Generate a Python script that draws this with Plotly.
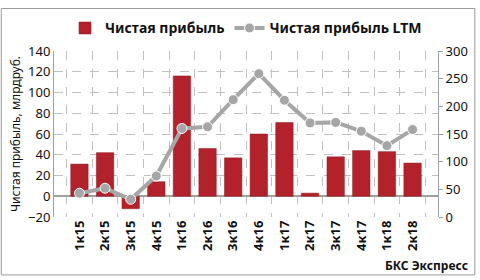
import plotly.graph_objects as go

categories = ["1к15", "2к15", "3к15", "4к15", "1к16", "2к16", "3к16", "4к16",
              "1к17", "2к17", "3к17", "4к17", "1к18", "2к18"]
net_profit = [31, 42, -12, 14, 116, 46, 37, 60, 71, 3, 38, 44, 43, 32]
net_profit_ltm = [43, 52, 32, 74, 160, 163, 212, 259, 211, 170, 171, 155, 129, 158]

left_ticks = [-20, 0, 20, 40, 60, 80, 100, 120, 140]
right_ticks = [0, 50, 100, 150, 200, 250, 300]

FONT = "Noto Sans"

fig = go.Figure()
fig.add_trace(go.Bar(
    x=categories, y=net_profit, name="Чистая прибыль",
    marker=dict(color="#b3222a", line=dict(color="#8a1a1f", width=0.5)),
    width=0.68,
))
fig.add_trace(go.Scatter(
    x=categories, y=net_profit_ltm, name="Чистая прибыль LTM", yaxis="y2",
    mode="lines+markers",
    line=dict(color="#a6a6a6", width=4),
    marker=dict(color="#a6a6a6", size=10, line=dict(color="white", width=1)),
))

fig.update_layout(
    width=480, height=280,
    margin=dict(l=54, r=40, t=45, b=63),
    paper_bgcolor="white", plot_bgcolor="white",
    font=dict(family=FONT, size=12, color="#222"),
    showlegend=True,
    legend=dict(orientation="h", x=0.5, xanchor="center", y=1.04, yanchor="bottom",
                font=dict(family=FONT, size=14, color="#111", weight="bold"),
                itemwidth=30, tracegroupgap=0),
    xaxis=dict(
        type="category", tickson="boundaries", showgrid=True,
        gridcolor="#c0c0c0", griddash="dash", gridwidth=1,
        tickangle=-90, ticks="", showline=False,
        tickfont=dict(family=FONT, size=13, color="#111", weight="bold"),
    ),
    yaxis=dict(
        range=[-20, 140], tickvals=left_ticks, showgrid=True,
        gridcolor="#c0c0c0", griddash="dash", gridwidth=1,
        zeroline=True, zerolinecolor="#a0a0a0", zerolinewidth=1.5,
        showline=True, linecolor="#a0a0a0", linewidth=1,
        ticks="", tickfont=dict(family=FONT, size=13, color="#111"),
        title=dict(text="Чистая прибыль, млрдруб.", standoff=4,
                   font=dict(family=FONT, size=12, color="#111")),
    ),
    yaxis2=dict(
        range=[0, 300], tickvals=right_ticks, overlaying="y", side="right",
        showgrid=False, zeroline=False,
        showline=True, linecolor="#a0a0a0", linewidth=1,
        ticks="outside", ticklen=4, tickcolor="#a0a0a0",
        tickfont=dict(family=FONT, size=13, color="#111"),
    ),
    annotations=[dict(
        text="<b>БКС Экспресс</b>", xref="paper", yref="paper",
        x=(472 - 54) / 386, y=-(267 - 217) / 172, xanchor="right", yanchor="middle",
        showarrow=False, font=dict(family=FONT, size=12, color="#111"),
    )],
    shapes=[dict(
        type="rect", xref="paper", yref="paper",
        x0=(1 - 54) / 386, x1=(477 - 54) / 386,
        y0=-(277 - 217) / 172, y1=1 + 44 / 172,
        line=dict(color="#9a9a9a", width=1), layer="below",
    )],
)

fig.write_html("out.html")
